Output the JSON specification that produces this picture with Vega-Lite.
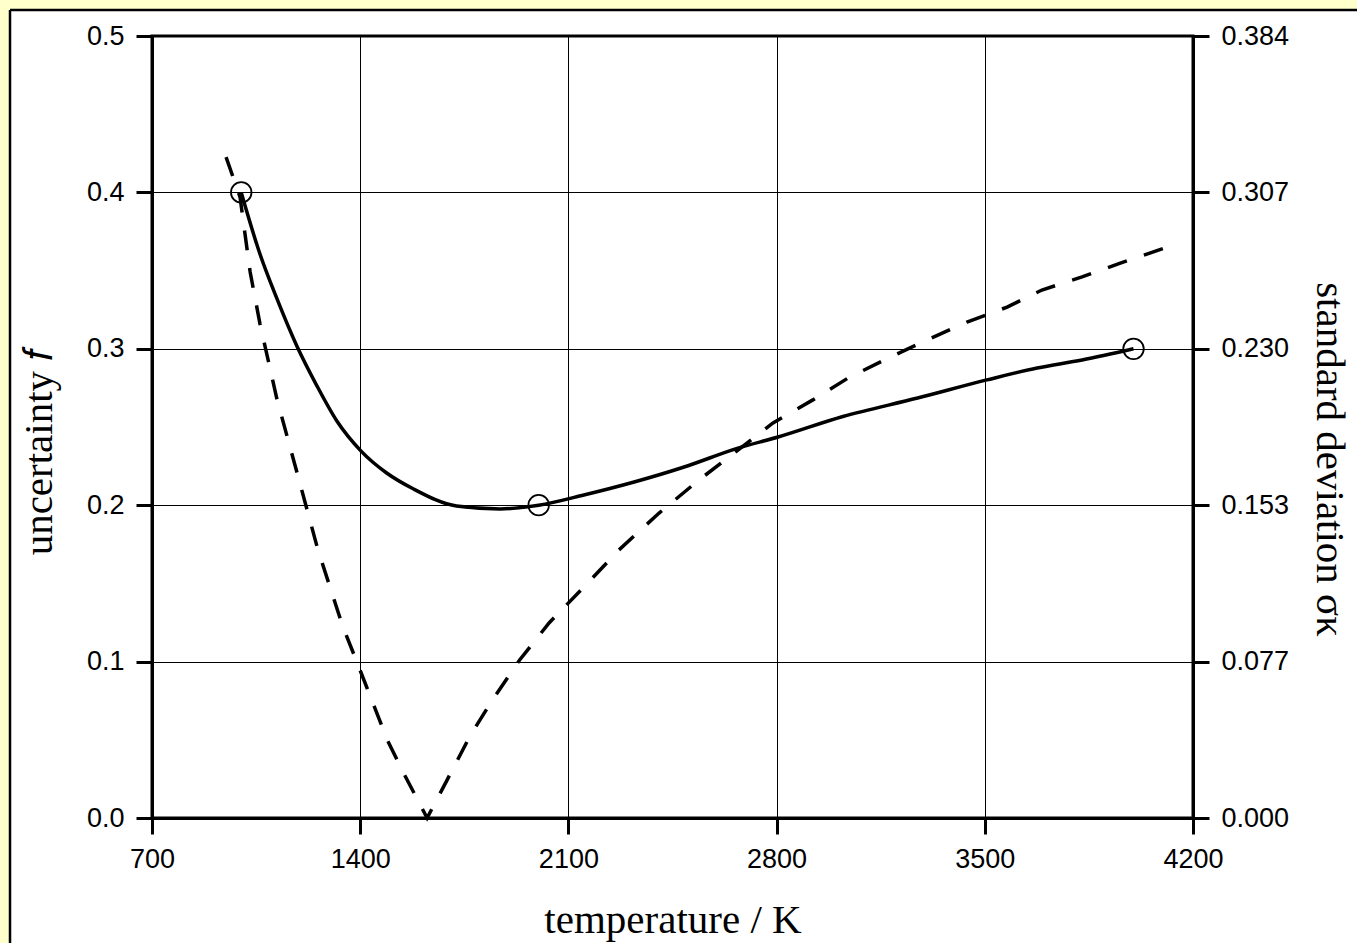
{
  "$schema": "https://vega.github.io/schema/vega-lite/v6.json",
  "width": 1041,
  "height": 782,
  "autosize": "none",
  "padding": {"left": 152, "top": 36, "right": 164, "bottom": 125},
  "background": "white",
  "config": {
    "view": {"stroke": "black", "strokeWidth": 3, "fill": "white"},
    "axis": {
      "labelFont": "Liberation Sans",
      "labelFontSize": 27,
      "labelColor": "black",
      "labelPadding": 12,
      "labelFlush": false,
      "labelOverlap": false,
      "titleFont": "Liberation Serif",
      "titleFontSize": 41,
      "titleFontWeight": "normal",
      "titleColor": "black",
      "domainColor": "black",
      "domainWidth": 3,
      "tickColor": "black",
      "tickWidth": 3,
      "tickSize": 16,
      "gridColor": "black",
      "gridOpacity": 1,
      "gridWidth": 1
    }
  },
  "datasets": {
    "solid": [
      {"T": 1000, "f": 0.4},
      {"T": 1063, "f": 0.3606},
      {"T": 1119, "f": 0.3325},
      {"T": 1187, "f": 0.3018},
      {"T": 1254, "f": 0.2765},
      {"T": 1321, "f": 0.254},
      {"T": 1403, "f": 0.2346},
      {"T": 1489, "f": 0.2206},
      {"T": 1578, "f": 0.2105},
      {"T": 1724, "f": 0.1995},
      {"T": 1870, "f": 0.1976},
      {"T": 2000, "f": 0.2},
      {"T": 2152, "f": 0.2065},
      {"T": 2321, "f": 0.2148},
      {"T": 2489, "f": 0.2244},
      {"T": 2670, "f": 0.2365},
      {"T": 2805, "f": 0.2436},
      {"T": 3023, "f": 0.2567},
      {"T": 3274, "f": 0.2685},
      {"T": 3507, "f": 0.2801},
      {"T": 3676, "f": 0.2877},
      {"T": 3827, "f": 0.2928},
      {"T": 4000, "f": 0.3}
    ],
    "points": [
      {"T": 1000, "f": 0.4},
      {"T": 2000, "f": 0.2},
      {"T": 4000, "f": 0.3}
    ],
    "dashed": [
      {"T": 949, "s": 0.3242},
      {"T": 996, "s": 0.3046},
      {"T": 1030, "s": 0.2678},
      {"T": 1063, "s": 0.2424},
      {"T": 1120, "s": 0.2055},
      {"T": 1188, "s": 0.1692},
      {"T": 1258, "s": 0.1315},
      {"T": 1342, "s": 0.0937},
      {"T": 1389, "s": 0.0765},
      {"T": 1440, "s": 0.0574},
      {"T": 1493, "s": 0.0377},
      {"T": 1551, "s": 0.0206},
      {"T": 1625, "s": 0.0},
      {"T": 1692, "s": 0.0186},
      {"T": 1769, "s": 0.0402},
      {"T": 1843, "s": 0.0575},
      {"T": 1936, "s": 0.0775},
      {"T": 2035, "s": 0.0957},
      {"T": 2152, "s": 0.1133},
      {"T": 2270, "s": 0.1315},
      {"T": 2405, "s": 0.1496},
      {"T": 2539, "s": 0.1658},
      {"T": 2670, "s": 0.1805},
      {"T": 2788, "s": 0.1938},
      {"T": 2922, "s": 0.2051},
      {"T": 3040, "s": 0.2158},
      {"T": 3175, "s": 0.2256},
      {"T": 3306, "s": 0.2345},
      {"T": 3440, "s": 0.2433},
      {"T": 3575, "s": 0.2506},
      {"T": 3692, "s": 0.259},
      {"T": 3827, "s": 0.2654},
      {"T": 3958, "s": 0.2723},
      {"T": 4113, "s": 0.28}
    ]
  },
  "layer": [
    {
      "layer": [
        {
          "data": {"values": [{}]},
          "mark": {"type": "rect", "fill": "#FFFFCC", "strokeWidth": 0},
          "encoding": {
            "x": {"datum": -3000, "type": "quantitative", "scale": {"domain": [700, 4200], "nice": false, "zero": false}},
            "x2": {"datum": 222.6},
            "y": {"datum": 1, "type": "quantitative", "scale": {"domain": [0, 0.5], "nice": false, "zero": false}},
            "y2": {"datum": -1}
          }
        },
        {
          "data": {"values": [{}]},
          "mark": {"type": "rect", "fill": "#FFFFCC", "strokeWidth": 0},
          "encoding": {
            "x": {"datum": -3000, "type": "quantitative", "scale": {"domain": [700, 4200], "nice": false, "zero": false}},
            "x2": {"datum": 9000},
            "y": {"datum": 1, "type": "quantitative", "scale": {"domain": [0, 0.5], "nice": false, "zero": false}},
            "y2": {"datum": 0.51662}
          }
        },
        {
          "data": {"values": [{}]},
          "mark": {"type": "rule", "color": "black", "strokeWidth": 2.5},
          "encoding": {
            "x": {"datum": 222.6, "type": "quantitative", "scale": {"domain": [700, 4200], "nice": false, "zero": false}},
            "x2": {"datum": 9000},
            "y": {"datum": 0.51662, "type": "quantitative", "scale": {"domain": [0, 0.5], "nice": false, "zero": false}}
          }
        },
        {
          "data": {"values": [{}]},
          "mark": {"type": "rule", "color": "black", "strokeWidth": 2.5},
          "encoding": {
            "x": {"datum": 222.6, "type": "quantitative", "scale": {"domain": [700, 4200], "nice": false, "zero": false}},
            "y": {"datum": 0.51662, "type": "quantitative", "scale": {"domain": [0, 0.5], "nice": false, "zero": false}},
            "y2": {"datum": -1}
          }
        },
        {
          "data": {"name": "solid"},
          "mark": {"type": "line", "color": "black", "strokeWidth": 3.5, "interpolate": "monotone"},
          "encoding": {
            "x": {
              "field": "T", "type": "quantitative",
              "scale": {"domain": [700, 4200], "nice": false, "zero": false},
              "axis": {"values": [700, 1400, 2100, 2800, 3500, 4200], "format": "d", "title": "temperature / K", "titlePadding": 28, "grid": true}
            },
            "y": {
              "field": "f", "type": "quantitative",
              "scale": {"domain": [0, 0.5], "nice": false, "zero": false},
              "axis": {"orient": "left", "values": [0, 0.1, 0.2, 0.3, 0.4, 0.5], "format": ".1f", "title": "uncertainty 𝑓", "titlePadding": 26, "titleY": 415, "grid": true}
            }
          }
        },
        {
          "data": {"name": "points"},
          "mark": {"type": "point", "shape": "circle", "filled": false, "stroke": "black", "strokeWidth": 1.8, "size": 420, "opacity": 1},
          "encoding": {
            "x": {"field": "T", "type": "quantitative", "scale": {"domain": [700, 4200], "nice": false, "zero": false}},
            "y": {"field": "f", "type": "quantitative", "scale": {"domain": [0, 0.5], "nice": false, "zero": false}}
          }
        }
      ]
    },
    {
      "data": {"name": "dashed"},
      "mark": {"type": "line", "color": "black", "strokeWidth": 3.5, "strokeDash": [20, 18], "strokeCap": "butt"},
      "encoding": {
        "x": {"field": "T", "type": "quantitative", "scale": {"domain": [700, 4200], "nice": false, "zero": false}},
        "y": {
          "field": "s", "type": "quantitative",
          "scale": {"domain": [0, 0.3836], "nice": false, "zero": false},
          "axis": {"orient": "right", "values": [0, 0.07672, 0.15344, 0.23016, 0.30688, 0.3836], "format": ".3f", "title": "standard deviation σκ", "titlePadding": 19, "titleY": 423, "grid": false}
        }
      }
    }
  ],
  "resolve": {"scale": {"y": "independent"}}
}
